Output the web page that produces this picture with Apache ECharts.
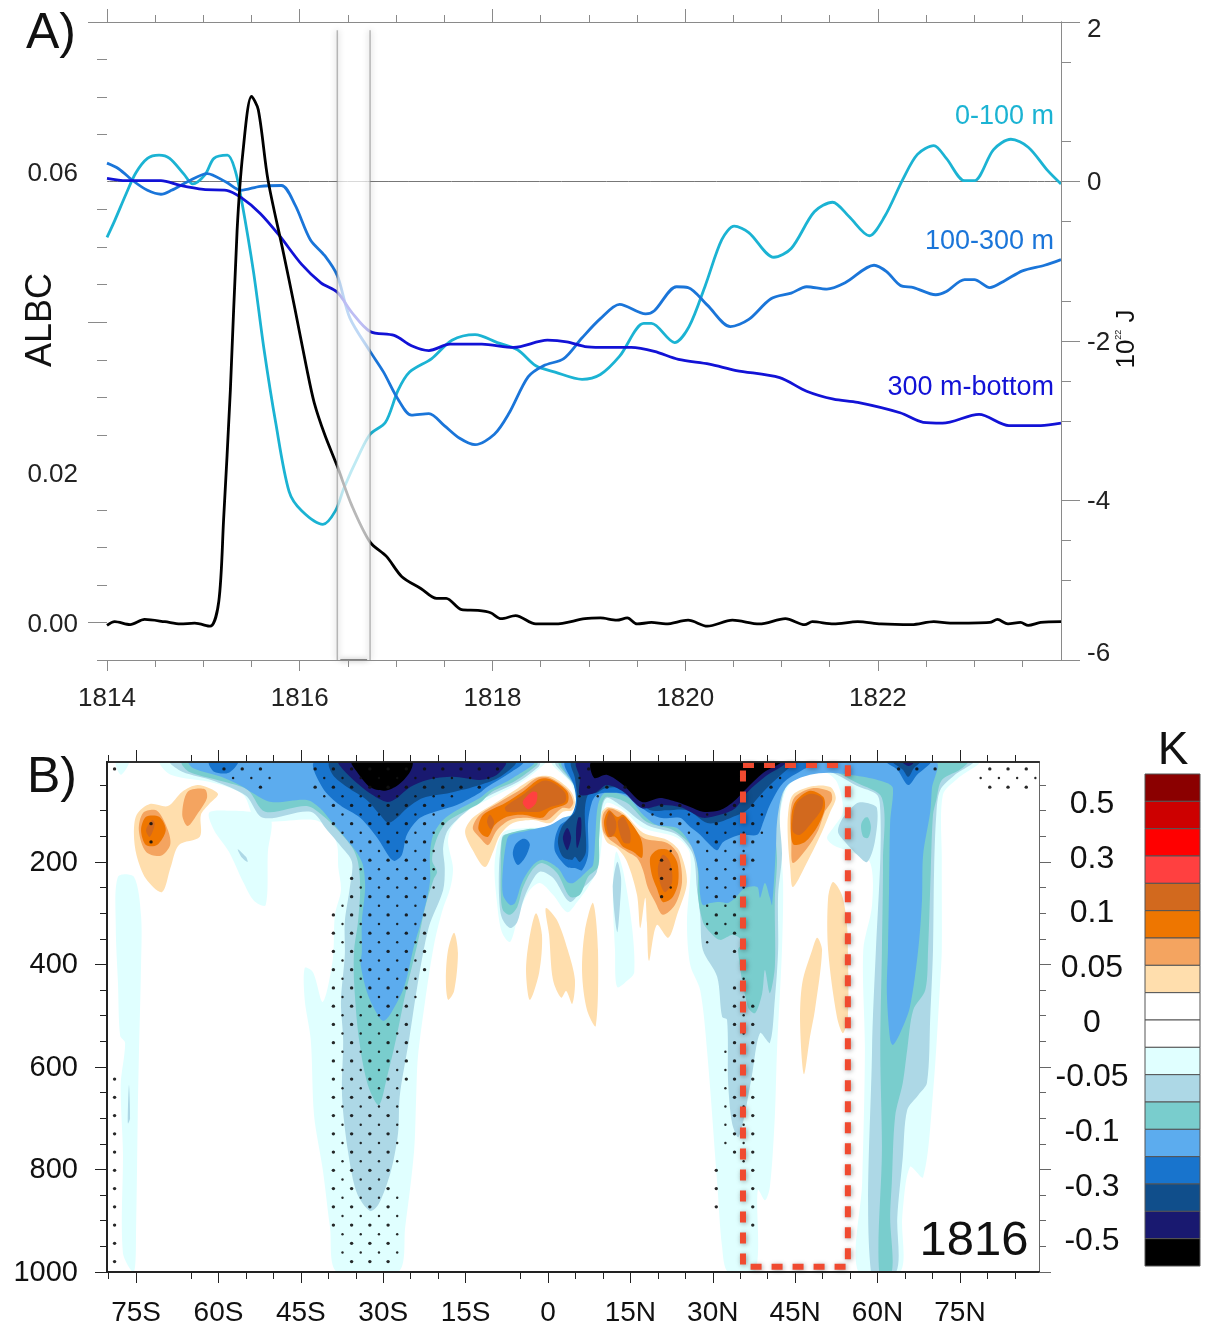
<!DOCTYPE html>
<html>
<head>
<meta charset="utf-8">
<title>ALBC and ocean heat content, 1816 anomaly section</title>
<script src="https://cdn.jsdelivr.net/npm/echarts@6/dist/echarts.min.js"></script>
<style>
  html, body { margin: 0; padding: 0; background: #fff; }
  #chart { width: 1210px; height: 1326px; }
</style>
</head>
<body>
<div id="chart"></div>
<script>
// ---------- panel A: time series ----------
const albcYears = [1814,1814.08,1814.24,1814.39,1814.6,1814.76,1814.91,1815.07,1815.16,1815.21,1815.28,1815.35,1815.41,1815.5,1815.57,1815.67,1815.83,1815.95,1816.07,1816.15,1816.26,1816.39,1816.54,1816.73,1816.9,1817.06,1817.26,1817.42,1817.52,1817.68,1817.85,1817.98,1818.09,1818.24,1818.45,1818.65,1818.96,1819.12,1819.29,1819.4,1819.5,1819.65,1819.8,1820.03,1820.23,1820.49,1820.77,1821.04,1821.24,1821.32,1821.54,1821.79,1822.03,1822.35,1822.58,1822.75,1823.16,1823.24,1823.35,1823.48,1823.56,1823.69,1823.9]
const albcValues = [-0.0004,0.0001,-0.0003,0.0004,0.0001,-0.0002,-0.0001,-0.0005,0.0028,0.0137,0.0309,0.0522,0.0626,0.0701,0.0683,0.059,0.0493,0.0418,0.034,0.0293,0.025,0.0208,0.0156,0.0107,0.0088,0.0061,0.0045,0.0032,0.0032,0.0017,0.0016,0.0013,0.0005,0.0009,-0.0002,-0.0002,0.0005,0.0006,0.0003,0.0006,-0.0002,0,-0.0002,0.0003,-0.0005,0.0003,-0.0002,0.0005,-0.0003,0.0001,-0.0002,0.0001,-0.0002,-0.0003,0.0001,-0.0001,0,0.0004,-0.0002,0,-0.0004,0,0.0001]

const upperYears = [1814,1814.08,1814.2,1814.3,1814.42,1814.54,1814.65,1814.8,1814.89,1815.02,1815.11,1815.25,1815.33,1815.4,1815.52,1815.63,1815.75,1815.89,1816.02,1816.24,1816.37,1816.46,1816.61,1816.73,1816.89,1817.02,1817.14,1817.37,1817.58,1817.82,1818.05,1818.26,1818.45,1818.65,1818.93,1819.12,1819.32,1819.57,1819.65,1819.89,1820.04,1820.21,1820.38,1820.51,1820.66,1820.92,1821.1,1821.34,1821.53,1821.7,1821.91,1822.07,1822.26,1822.41,1822.58,1822.71,1822.9,1823,1823.2,1823.38,1823.56,1823.76,1823.9]
const upperValues = [-0.7,-0.49,-0.15,0.11,0.29,0.33,0.29,0.09,-0.03,0.09,0.29,0.33,0.14,-0.26,-1.13,-2.11,-3.02,-3.89,-4.13,-4.3,-4.13,-3.84,-3.44,-3.17,-3.02,-2.62,-2.39,-2.22,-1.99,-1.92,-2.02,-2.11,-2.31,-2.39,-2.48,-2.42,-2.19,-1.78,-1.78,-2.02,-1.82,-1.3,-0.73,-0.56,-0.64,-0.95,-0.84,-0.38,-0.26,-0.44,-0.68,-0.44,0.03,0.34,0.45,0.29,0.01,0.01,0.4,0.53,0.43,0.14,-0.03]

const middleYears = [1814,1814.12,1814.28,1814.42,1814.56,1814.67,1814.84,1815.04,1815.24,1815.39,1815.59,1815.81,1815.95,1816.11,1816.26,1816.39,1816.52,1816.73,1816.87,1817.02,1817.16,1817.34,1817.5,1817.66,1817.82,1818.02,1818.17,1818.37,1818.53,1818.74,1818.93,1819.12,1819.32,1819.59,1819.68,1819.91,1820.03,1820.23,1820.47,1820.66,1820.89,1821.1,1821.26,1821.47,1821.66,1821.96,1822.09,1822.23,1822.37,1822.6,1822.71,1822.9,1823,1823.16,1823.32,1823.5,1823.73,1823.9]
const middleValues = [0.23,0.16,0,-0.11,-0.16,-0.11,0,0.1,-0.01,-0.11,-0.06,-0.05,-0.29,-0.73,-0.93,-1.18,-1.71,-2.13,-2.39,-2.73,-2.93,-2.91,-3.06,-3.22,-3.3,-3.17,-2.91,-2.45,-2.31,-2.22,-1.96,-1.72,-1.54,-1.66,-1.62,-1.32,-1.33,-1.55,-1.82,-1.73,-1.47,-1.4,-1.32,-1.35,-1.27,-1.05,-1.13,-1.3,-1.33,-1.42,-1.38,-1.23,-1.23,-1.33,-1.24,-1.12,-1.05,-0.98]

const deepYears = [1814,1814.2,1814.56,1814.76,1815,1815.24,1815.39,1815.59,1815.79,1816.02,1816.22,1816.39,1816.54,1816.73,1816.98,1817.16,1817.34,1817.56,1817.89,1818.22,1818.57,1818.77,1818.96,1819.12,1819.44,1819.68,1819.93,1820.25,1820.53,1820.98,1821.26,1821.54,1821.79,1822.23,1822.47,1822.67,1823.05,1823.36,1823.69,1823.9]
const deepValues = [0.04,0.01,0.01,-0.05,-0.1,-0.11,-0.2,-0.4,-0.68,-1.04,-1.27,-1.39,-1.64,-1.88,-1.93,-2.06,-2.12,-2.04,-2.04,-2.08,-1.99,-2.01,-2.07,-2.08,-2.08,-2.13,-2.23,-2.29,-2.37,-2.46,-2.63,-2.73,-2.77,-2.9,-3.02,-3.03,-2.92,-3.06,-3.06,-3.03]

const zeroLineYears = [1814, 1823.9]
const bandYears = [1816.39, 1816.73]
const bandAlbc = [-0.005, 0.0789]

const yearMajor = [1814,1816,1818,1820,1822]
const yearMinor = [1814.5,1815,1815.5,1816.5,1817,1817.5,1818.5,1819,1819.5,1820.5,1821,1821.5,1822.5,1823,1823.5]
const albcMajor = [0,0.04,0.08]
const albcMinor = [-0.005,0.005,0.01,0.015,0.025,0.03,0.035,0.045,0.05,0.055,0.065,0.07,0.075]
const albcLabels = [0,0.02,0.06]
const joulesMajor = [-6,-4,-2,0,2]
const joulesMinor = [-5,-4.5,-3,-2.5,-1.5,-0.5,0.5,1.5]

// ---------- panel B: filled contours as [latitude (-S/+N), depth] outlines ----------
const c1Plume = [[-70.5,5],[-68.7,30],[-60.8,46],[-55.5,69],[-53,118],[-42.6,118],[-39.9,134],[-38.4,167],[-38.2,210],[-37.7,255],[-38.8,303],[-39.2,391],[-41,473],[-42.8,415],[-44.3,407],[-44.3,469],[-43.2,547],[-42.6,694],[-41,801],[-39.7,912],[-38.4,1000],[-27.3,1000],[-26,912],[-24.4,766],[-24,657],[-23.7,582],[-22.4,473],[-20.8,364],[-19.3,297],[-17.8,251],[-17.3,212],[-18.2,161],[-17.5,132],[-14.8,102],[-10,73],[-5.1,46],[-1.5,17],[-0.5,5]]
const c1Centre = [[0.9,5],[4,44],[4.9,69],[4.6,102],[2.2,118],[-0.5,132],[-3.8,134],[-8.2,143],[-9.7,200],[-9.3,278],[-8.4,337],[-6.9,356],[-5.5,309],[-3.6,259],[-1.5,241],[0.9,264],[3.5,298],[5.3,278],[7.3,249],[9.1,212],[9.8,161],[10,114],[10.7,85],[13.7,99],[17.3,134],[23.5,153],[25.9,186],[25.3,319],[25.9,401],[27.7,450],[29,573],[30.8,826],[31.7,951],[32.8,1000],[37.7,1000],[38.2,840],[39.5,860],[40.4,834],[41.3,697],[41.7,567],[42.6,372],[42.8,239],[42.2,122],[43.2,63],[45.3,36],[50.1,24],[52.6,44],[53.7,102],[51.9,134],[50.8,153],[51.9,167],[55,180],[58.6,200],[59,284],[57.4,372],[57.7,567],[57.2,826],[56.5,1000],[64.1,1000],[64.5,893],[65.9,795],[68.3,815],[70.1,651],[71.4,436],[71.7,372],[71.7,196],[71.9,69],[74.7,36],[78.3,5]]
const c1LobeSouth = [[-61.7,104],[-60.8,138],[-58.1,180],[-55.5,239],[-53.5,276],[-51.4,284],[-51,180],[-50.4,118],[-53,104],[-58.1,100]]
const c1StripSouth = [[-78.3,229],[-78.7,327],[-78.3,436],[-77.9,539],[-77,553],[-77.8,635],[-77.4,766],[-77.4,963],[-75.4,1000],[-75,912],[-74.7,694],[-74.5,582],[-74.1,401],[-74.1,305],[-75.4,229]]
const c1Corner = [[-78.7,5],[-77.8,30],[-76.3,5]]
const c1Sliver12N = [[12.4,180],[11.8,255],[12.2,372],[12.6,444],[14.6,430],[15.7,415],[15.3,327],[13.7,218]]

const c2Plume = [[-68.7,5],[-66.6,24],[-60.8,42],[-55,71],[-51.9,114],[-43.2,102],[-40.2,138],[-37.9,167],[-35.7,200],[-36.1,251],[-37,317],[-37,381],[-37.7,473],[-37.3,547],[-37.5,657],[-36.4,766],[-34.8,846],[-32.4,881],[-30.8,867],[-28.6,803],[-27.3,729],[-27,657],[-25.3,547],[-23.7,436],[-21.7,327],[-19.1,255],[-18.8,212],[-19.1,173],[-18.4,141],[-16.6,118],[-12.9,85],[-10,67],[-5.5,44],[-1.8,15],[-1.5,7]]
const c2Centre = [[1.6,5],[4.4,46],[5.3,69],[5,102],[2.2,120],[-0.5,136],[-3.8,137],[-8,147],[-8.4,153],[-8.9,206],[-8.9,270],[-8.4,309],[-6.9,329],[-5.6,317],[-4.6,278],[-3.3,245],[-1.5,219],[0.9,231],[4,278],[6.4,251],[8.9,219],[9.3,153],[9.8,95],[10.7,75],[13.1,89],[18,128],[23.5,147],[26.4,186],[27.1,251],[27.7,303],[28.2,372],[30.8,424],[31.7,502],[32.6,508],[32.8,631],[33.5,709],[34.6,737],[35.5,709],[37.1,619],[38.6,534],[40.4,553],[41.3,469],[41.9,372],[41.9,264],[42.6,186],[42.2,108],[43.2,56],[45.3,30],[50.1,20],[52.6,30],[56.3,52],[59.9,69],[60.5,99],[60.5,196],[59.7,372],[59,567],[58.8,1000],[63.4,1000],[63.6,893],[64.6,776],[65.4,684],[67.4,655],[69,631],[69.6,502],[70.1,372],[70.3,216],[70.7,108],[71.4,60],[74.1,30],[77.2,5]]
const c2Lobe50N = [[56.3,85],[53.7,114],[52.8,141],[54.1,161],[56.3,186],[58.1,200],[59.5,161],[59.9,95],[58.1,85]]
const c2SpotSouth = [[-56.5,175],[-55,190],[-54.7,200],[-55.7,192]]
const c2SpotStrip = [[-76.3,635],[-76.5,710],[-76.1,700]]
const c2Sliver12N = [[12.6,200],[11.8,251],[12.6,337],[13.1,284],[13.3,231]]

const c3Plume = [[-66.6,5],[-65.4,24],[-58.1,46],[-54.6,60],[-51.5,102],[-43.9,91],[-41,110],[-38.4,136],[-35.7,171],[-34.6,200],[-34.2,251],[-34.6,317],[-35.3,372],[-35.3,436],[-34.4,547],[-32.8,635],[-30.8,674],[-29.3,619],[-27.7,547],[-26,459],[-23.7,356],[-22.4,290],[-20.8,233],[-20.2,219],[-21.1,196],[-20.2,153],[-18.4,122],[-14.8,99],[-12.4,85],[-10.2,63],[-6,42],[-2,11],[-2,5]]
const c3Centre = [[2.2,5],[4.7,50],[5.3,104],[2.7,118],[-0.5,134],[-3.8,136],[-7.8,147],[-8.4,157],[-8.6,212],[-8.6,264],[-8.2,294],[-6.9,303],[-5.6,288],[-4.6,251],[-2.9,216],[-1.1,202],[1.6,221],[4,268],[5.8,264],[7.3,229],[9.1,210],[9.3,153],[9.8,89],[10.7,73],[14.4,85],[18,122],[22.8,138],[26.4,173],[27.3,219],[27.3,264],[28.2,317],[29.5,337],[31.3,352],[33.7,342],[35.5,356],[34.6,372],[36.4,483],[37.7,495],[39,456],[39.5,411],[40.4,456],[41.3,405],[41.3,274],[41.7,196],[41.3,118],[42.2,69],[45.3,24],[50.1,15],[56.3,46],[60.8,75],[61,196],[60.8,372],[60.5,567],[60.8,762],[60.3,1000],[62.6,1000],[62.3,893],[62.6,826],[63.2,697],[64.6,631],[65.4,567],[66.5,489],[68.7,450],[69.2,372],[69.7,216],[70.1,108],[70.7,79],[71.7,40],[75,20],[76.3,5]]
const c3Lobe50N = [[57.7,114],[57,128],[57.4,151],[58.3,153],[58.8,132],[58.3,114]]

const c4Plume = [[-65.4,5],[-64.6,17],[-59.5,34],[-55.5,54],[-54.2,63],[-50.4,83],[-43.9,79],[-41.5,95],[-39.2,124],[-36.6,157],[-34.8,182],[-33.7,206],[-33.3,251],[-33.9,317],[-33.9,376],[-34.1,401],[-32.8,459],[-30.8,502],[-29.9,510],[-28.6,495],[-26.2,444],[-24.4,364],[-22.8,305],[-21.5,239],[-21.5,186],[-20.9,147],[-19.1,118],[-16.6,99],[-12.4,75],[-10.6,60],[-6.4,36],[-2.7,5]]
const c4Centre = [[2.7,5],[4.4,44],[5.5,60],[5.3,104],[2.7,114],[0.4,128],[-3.8,139],[-6.9,147],[-7.5,157],[-8.2,212],[-8.2,264],[-6.9,284],[-6,280],[-4.7,239],[-2.7,206],[-0.9,196],[1.8,212],[3.5,239],[4.6,241],[7.3,216],[8.2,206],[8.6,153],[9.1,89],[10.4,65],[14.4,73],[17.3,108],[19.8,128],[23.5,134],[26,167],[27.3,212],[27.7,264],[28.2,284],[29.5,280],[31.3,278],[32.8,280],[34.1,270],[35.9,251],[38.1,249],[38.6,270],[39.5,241],[40.4,270],[40.8,284],[41.5,173],[41.7,122],[42.6,69],[44.1,46],[47.7,30],[51.4,26],[57.4,34],[61.7,46],[62.8,56],[62.3,122],[62.1,251],[61.9,372],[61.7,456],[62.3,547],[62.8,557],[64.1,534],[65.9,483],[67.4,372],[68.1,274],[68.3,186],[69.6,102],[69.9,56],[70.5,5]]

const c5Patch60S = [[-61.7,5],[-56.5,5],[-58.1,26],[-60.8,24]]
const c5Plume = [[-42.4,5],[-41,56],[-37.9,89],[-34.2,114],[-31.1,153],[-28.8,192],[-27.9,198],[-26.6,186],[-25.7,147],[-23.3,114],[-19.7,99],[-16.6,89],[-12.4,65],[-11.1,54],[-6.9,26],[-4.6,5]]
const c5Centre = [[3.3,5],[4.7,50],[5.1,79],[4.6,102],[3.5,118],[2.2,128],[1.3,153],[1.3,180],[3.5,210],[4.9,212],[6.2,216],[7.3,186],[7.3,122],[8,83],[8.9,69],[10.7,65],[14.4,69],[16.8,93],[20.4,114],[24,114],[25.9,132],[27.7,147],[29.5,167],[30.8,177],[31.9,161],[35,147],[38.1,147],[39.2,122],[40.4,89],[42.8,46],[46.4,20],[49.2,5]]
const c5Blob = [[-4.7,155],[-6,167],[-6.4,186],[-5.5,206],[-4.2,192],[-3.3,167],[-3.8,157]]
const c5Top65N = [[61.7,5],[63.6,20],[65.6,50],[67.2,30],[69.6,5]]

const c6Plume = [[-39.7,5],[-39.2,30],[-36.6,54],[-33,79],[-30.6,108],[-29.1,124],[-27.5,114],[-25.7,95],[-22.8,75],[-17.8,65],[-12.4,50],[-8.7,34],[-6,5]]
const c6Centre = [[4.4,5],[4.9,36],[5.3,75],[4.9,102],[3.5,118],[2.5,132],[1.8,161],[2.7,190],[4.4,196],[4.9,190],[5.8,200],[6.9,180],[6.7,102],[7.3,69],[8.9,65],[10.4,56],[13.7,56],[16.2,75],[18.6,99],[21.7,99],[25.3,99],[29,124],[31.3,122],[33.7,112],[36.2,99],[38.2,75],[40.4,50],[43.5,20],[45.3,5]]
const c6Top65N = [[62.8,5],[64.6,20],[65.6,34],[66.6,17],[67.7,5]]

const c7Plume = [[-38.1,5],[-37.3,20],[-34.8,46],[-32,69],[-29.3,83],[-27.5,75],[-25.1,54],[-22,40],[-17.3,34],[-12.4,40],[-9.3,30],[-7.8,5]]
const c7Centre = [[5.3,5],[5.8,36],[5.8,69],[8.6,65],[10.7,50],[13.7,63],[17.1,95],[20.9,89],[24,93],[25.9,102],[28.2,114],[31.3,108],[34.1,95],[36.4,63],[39.5,34],[43.2,5]]
const c7BlobA = [[3.5,134],[2.7,153],[3.5,177],[4.2,153]]
const c7BlobB = [[5.5,114],[5.1,141],[5.3,173],[6,147],[6,114]]
const c7Top65N = [[64.5,5],[65.6,13],[66.5,7]]

const blackPlume = [[-35.7,5],[-34.8,24],[-32.4,54],[-29.7,61],[-27.3,50],[-25.1,24],[-24.8,5]]
const blackCentre = [[8,5],[8.4,36],[10.7,30],[13.7,50],[17.1,83],[20.4,75],[23.5,83],[25.9,93],[28.2,102],[31.3,99],[33.7,83],[36.2,56],[39.2,26],[42.2,5]]

const w1South = [[-75.4,145],[-74.9,108],[-72.5,87],[-69.2,91],[-66.6,63],[-63.7,50],[-60.1,67],[-61.7,87],[-63.2,108],[-63.4,151],[-67.2,167],[-68.7,210],[-70.3,259],[-73.2,233],[-74.9,188]]
const w1Equator = [[-15.1,141],[-13.7,114],[-9.3,83],[-5.5,56],[-2,34],[0.7,34],[4,60],[4.9,83],[4.4,99],[2.7,102],[0.4,124],[-2.7,118],[-6.4,124],[-8.7,147],[-10,180],[-11.5,210],[-13.7,177]]
const w1North15 = [[9.8,104],[10.9,93],[13.7,104],[17.3,143],[21.7,157],[24,180],[25.3,239],[23.5,303],[21.9,348],[19.8,323],[18.4,393],[18,317],[17.7,270],[16.8,329],[16.2,264],[14.4,200],[12.6,173],[10.7,161],[9.8,134]]
const w1North45 = [[43.7,108],[44.6,69],[48.3,52],[51.4,54],[52.4,75],[51.4,102],[49.9,141],[47.2,200],[44.6,249],[44.1,212],[43.7,161]]
const w1SliverA = [[-17.1,338],[-18.2,372],[-18.6,430],[-18.2,469],[-17.1,452],[-16.4,377]]
const w1SliverB = [[-2.2,300],[-3.5,356],[-4,415],[-3.3,469],[-1.6,415],[-1.1,342]]
const w1SliverC = [[-0.4,290],[0.2,342],[0.9,430],[2.4,465],[3.3,452],[4.4,477],[4.9,430],[3.6,372],[1.6,313]]
const w1SliverD = [[8.2,280],[6.7,335],[6.2,415],[7.1,489],[8.7,520],[9.1,372]]
const w1SliverE = [[49,348],[48.1,372],[46.3,436],[45.9,514],[46.6,614],[47.7,541],[48.6,489],[49.9,372]]
const w1SliverF = [[51.9,239],[51,270],[51,372],[52.6,502],[53.7,534],[54.6,502],[54.6,372],[54.4,317],[53.5,264]]

const w2SouthA = [[-74.5,138],[-73.7,104],[-71.2,100],[-69.2,138],[-68.8,167],[-70.5,188],[-73.2,180]]
const w2SouthB = [[-66.6,108],[-65.6,63],[-62.5,58],[-62.1,75],[-63.7,104],[-65.6,130]]
const w2Equator = [[-13.7,134],[-12.4,108],[-8.2,79],[-4.6,56],[-2,36],[0.4,36],[3.6,60],[4.6,83],[4,95],[2.5,95],[-0.2,118],[-3.8,114],[-6.9,118],[-9.3,138],[-10.9,167],[-12.4,153]]
const w2North15 = [[10,108],[11.1,95],[13.7,108],[17.3,153],[21.7,163],[23.7,186],[24.4,239],[23.1,284],[20.9,303],[19.5,278],[18.2,251],[17.3,216],[16.2,192],[14.4,180],[12.6,167],[10.9,153],[10,138]]
const w2North45 = [[44.1,114],[44.8,75],[48.1,56],[51.4,63],[51.7,79],[50.4,102],[49.2,138],[47.2,173],[44.6,202],[44.3,161]]

const w3South = [[-74.1,138],[-73.2,112],[-70.8,112],[-69.6,138],[-71.2,167],[-73.2,167]]
const w3Equator = [[-12.7,134],[-11.8,108],[-7.8,85],[-4.6,63],[-1.5,38],[0.7,40],[3.5,63],[3.5,85],[0.4,99],[-1.1,114],[-4.6,108],[-7.5,112],[-9.7,128],[-10.9,151],[-12,147]]
const w3North15A = [[10.2,122],[11.1,99],[12.6,112],[13.7,108],[15.8,134],[17.1,161],[17.1,192],[15.5,180],[13.7,171],[12.2,151],[10.9,151]]
const w3North15B = [[18.6,192],[19.8,177],[21.9,177],[23.5,200],[23.7,241],[22.6,270],[20.9,278],[19.8,251],[18.9,225]]
const w3North45 = [[44.3,114],[45,83],[47.7,61],[50.1,73],[50.4,95],[49,132],[46.8,161],[44.6,165]]

const w4South = [[-73.2,138],[-72.1,118],[-71.6,126],[-72.5,151]]
const w4EquatorA = [[-11.1,122],[-10.6,108],[-9.8,122],[-10.4,136]]
const w4EquatorB = [[-7.8,93],[-4.6,69],[-1.1,42],[0.7,44],[3.1,65],[3.1,83],[0.4,93],[-1.5,102],[-4.6,102],[-7.5,102]]
const w4North15A = [[10.6,124],[11.3,102],[12.4,122],[12.2,143],[11.3,151]]
const w4North15B = [[12.7,122],[13.7,112],[14.9,138],[14.9,163],[13.7,161]]
const w4North15C = [[20,212],[20.9,186],[22.2,200],[22.6,239],[21.3,259],[20.4,241]]
const w4North45 = [[44.6,114],[45.3,85],[47.7,67],[49.9,75],[49.9,95],[48.1,122],[45.9,147],[44.6,141]]

const w5Equator = [[-4.6,83],[-2.9,63],[-2,65],[-2.2,85],[-3.6,97]]

// colour bar, top to bottom
const barColors = ['#8B0000','#CD0000','#FF0000','#FF4040','#D2691E','#EE7600','#F4A460','#FFDEAD','#FFFFFF','#FFFFFF','#E0FFFF','#ADD8E6','#79CDCD','#5CACEE','#1874CD','#104E8B','#191970','#000000']
const barLabels = ['0.5','0.3','0.1','0.05','0','-0.05','-0.1','-0.3','-0.5']
const barLabelSlots = [1,3,5,7,9,11,13,15,17]

// painted in this order, colours as in barColors
const contourLayers = [
  ['#E0FFFF', [c1Plume, c1Centre, c1LobeSouth, c1StripSouth, c1Corner, c1Sliver12N]],
  ['#ADD8E6', [c2Plume, c2Centre, c2Lobe50N, c2SpotSouth, c2SpotStrip, c2Sliver12N]],
  ['#79CDCD', [c3Plume, c3Centre, c3Lobe50N]],
  ['#5CACEE', [c4Plume, c4Centre]],
  ['#1874CD', [c5Patch60S, c5Plume, c5Centre, c5Blob, c5Top65N]],
  ['#104E8B', [c6Plume, c6Centre, c6Top65N]],
  ['#191970', [c7Plume, c7Centre, c7BlobA, c7BlobB, c7Top65N]],
  ['#000000', [blackPlume, blackCentre]],
  ['#FFDEAD', [w1South, w1Equator, w1North15, w1North45, w1SliverA, w1SliverB, w1SliverC, w1SliverD, w1SliverE, w1SliverF]],
  ['#F4A460', [w2SouthA, w2SouthB, w2Equator, w2North15, w2North45]],
  ['#EE7600', [w3South, w3Equator, w3North15A, w3North15B, w3North45]],
  ['#D2691E', [w4South, w4EquatorA, w4EquatorB, w4North15A, w4North15B, w4North15C, w4North45]],
  ['#FF4040', [w5Equator]]
]

// significance dots sit on a staggered grid, runs are [row, first column, last column], every 2nd column
const stippleRuns = [[0,-22,-22],[0,-10,-6],[0,0,20],[0,30,30],[0,64,68],[0,74,78],[1,-9,-5],[1,1,19],[1,29,29],[1,51,51],[1,73,79],[2,-6,-6],[2,0,18],[2,30,34],[2,50,50],[2,74,78],[3,1,15],[3,29,31],[3,49,49],[4,2,14],[4,36,40],[4,46,48],[5,3,13],[5,37,49],[6,-18,-18],[6,2,14],[6,38,48],[7,3,13],[7,41,49],[8,-18,-18],[8,4,12],[8,42,48],[9,5,13],[9,39,39],[9,43,47],[10,6,12],[10,38,38],[10,44,48],[11,5,13],[11,39,39],[11,43,47],[12,4,12],[12,38,38],[12,44,46],[13,5,13],[13,39,39],[13,43,47],[14,4,12],[14,38,38],[14,44,46],[15,3,11],[15,43,45],[16,2,12],[16,44,46],[17,3,11],[17,43,45],[18,2,12],[18,44,46],[19,3,11],[19,43,43],[20,2,12],[20,46,46],[21,3,11],[22,2,12],[23,3,11],[23,47,47],[24,2,10],[24,46,46],[25,3,11],[25,47,47],[26,2,10],[26,46,48],[27,3,9],[27,47,47],[28,2,10],[28,46,48],[29,3,9],[29,47,47],[30,2,10],[30,46,48],[31,3,9],[31,45,47],[32,2,10],[32,46,48],[33,3,9],[33,45,47],[34,-22,-22],[34,2,10],[34,46,48],[35,3,9],[35,45,47],[36,-22,-22],[36,2,8],[36,46,48],[37,3,9],[37,45,47],[38,-22,-22],[38,2,8],[38,46,48],[39,3,9],[39,45,47],[40,-22,-22],[40,2,8],[40,46,48],[41,3,9],[41,45,47],[42,-22,-22],[42,2,8],[42,46,48],[43,3,9],[43,47,47],[44,-22,-22],[44,2,8],[44,44,44],[44,48,48],[45,3,7],[46,-22,-22],[46,2,8],[46,44,44],[46,48,48],[47,3,9],[48,-22,-22],[48,2,8],[48,44,44],[48,48,48],[49,3,9],[50,-22,-22],[50,2,8],[50,48,48],[51,3,9],[52,-22,-22],[52,4,8],[53,3,9],[54,-22,-22],[54,4,8]]
const stippleLon0 = -42.4
const stippleLonStep = 1.66
const stippleDepth0 = 18.5
const stippleDepthStep = 17.8

const boxLons = [35.5, 54.6, 54.6, 35.5, 35.5]
const boxDepths = [11, 11, 990, 990, 11]

const latMajor = [-75,-60,-45,-30,-15,0,15,30,45,60,75]
const latMinor = [-80,-65,-55,-50,-40,-35,-25,-20,-5,5,10,20,25,35,40,50,55,65,70,80,85]
const latLabels = ['75S','60S','45S','30S','15S','0','15N','30N','45N','60N','75N']
const depthMajor = [200,400,600,800,1000]
const depthMinor = [50,100,150,250,300,350,450,500,550,650,700,750,850,900,950]

// ---------- helpers ----------
const font = '"Liberation Sans", Arial, sans-serif'
const grayAxis = '#8a8a8a'

function zipXY(xs, ys) {
  return xs.map((x, i) => [x, ys[i]])
}

function tickAxis(base, ticks, length, color, lineWidth, label) {
  return Object.assign({
    type: 'value',
    z: 10,
    splitLine: { show: false },
    axisLine: { show: true, onZero: false, lineStyle: { color: color, width: lineWidth } },
    axisTick: { show: true, customValues: ticks, length: length, lineStyle: { color: color, width: 1 } },
    axisLabel: label || { show: false }
  }, base)
}

function lineSeries(name, xs, ys, color, yAxisIndex, z, width) {
  return {
    name: name,
    type: 'line',
    xAxisIndex: 0,
    yAxisIndex: yAxisIndex,
    data: zipXY(xs, ys),
    smooth: 0.3,
    showSymbol: false,
    z: z,
    lineStyle: { color: color, width: width || 2.8 }
  }
}

function renderContour(params, api) {
  const cell = contourCells[params.dataIndex]
  return {
    type: 'polygon',
    shape: { points: cell.outline.map(p => api.coord(p)), smooth: 0.3 },
    style: { fill: cell.color }
  }
}

const contourCells = []
contourLayers.forEach(layer => {
  layer[1].forEach(outline => contourCells.push({ color: layer[0], outline: outline }))
})

function renderBand(params, api) {
  const a = api.coord([bandYears[0], bandAlbc[1]])
  const b = api.coord([bandYears[1], bandAlbc[0]])
  const edge = { stroke: 'rgba(140,140,140,0.6)', lineWidth: 1.5, shadowBlur: 6, shadowColor: 'rgba(0,0,0,0.5)' }
  const foot = { stroke: 'rgba(90,90,90,0.7)', lineWidth: 2, shadowBlur: 5, shadowColor: 'rgba(0,0,0,0.5)' }
  return {
    type: 'group',
    children: [
      { type: 'rect', shape: { x: a[0], y: a[1], width: b[0] - a[0], height: b[1] - a[1] }, style: { fill: 'rgba(255,255,255,0.72)' } },
      { type: 'line', shape: { x1: a[0], y1: a[1], x2: a[0], y2: b[1] }, style: edge },
      { type: 'line', shape: { x1: b[0], y1: a[1], x2: b[0], y2: b[1] }, style: edge },
      { type: 'line', shape: { x1: a[0] + 3, y1: b[1], x2: b[0] - 3, y2: b[1] }, style: foot }
    ]
  }
}

function renderBarCell(params, api) {
  const i = params.dataIndex
  const a = api.coord([0, i])
  const b = api.coord([1, i + 1])
  return {
    type: 'rect',
    shape: { x: a[0], y: a[1], width: b[0] - a[0], height: b[1] - a[1] },
    style: { fill: barColors[i], stroke: '#555', lineWidth: 1 }
  }
}

const stippleData = []
stippleRuns.forEach(run => {
  for (let k = run[1]; k <= run[2]; k += 2) {
    stippleData.push([stippleLon0 + k * stippleLonStep, stippleDepth0 + run[0] * stippleDepthStep, run[0] % 2 === 0 ? 3.4 : 2.4])
  }
})

function pageText(text, x, y, size, color, extra) {
  return {
    type: 'text',
    x: x,
    y: y,
    z: 50,
    style: Object.assign({ text: text, fontFamily: font, fontSize: size, fill: color, align: 'center', verticalAlign: 'middle' }, extra || {})
  }
}

// rich tokens: padding nudges a tick label off its tick
function nudged(size, color, top, bottom) {
  return { fontFamily: font, fontSize: size, color: color, padding: [top, 0, bottom, 0] }
}

const yearLabel = { show: true, customValues: yearMajor, fontFamily: font, fontSize: 26, color: '#222', margin: 26, formatter: v => String(v) }
const albcLabel = {
  show: true, customValues: albcLabels, margin: 29, formatter: v => '{n|' + v.toFixed(2) + '}',
  rich: { n: nudged(26, '#222', 4, 0) }
}
const joulesLabel = {
  show: true, customValues: joulesMajor, margin: 26,
  formatter: v => (v === 2 ? '{t|2}' : v === -6 ? '{b|-6}' : '{n|' + v + '}'),
  rich: { n: nudged(26, '#222', 3, 0), t: nudged(26, '#222', 16, 0), b: nudged(26, '#222', 0, 12) }
}
const latLabel = {
  show: true, customValues: latMajor, fontFamily: font, fontSize: 28, color: '#111', margin: 27,
  formatter: v => latLabels[latMajor.indexOf(v)]
}
const depthLabel = {
  show: true, customValues: depthMajor, margin: 29, formatter: v => '{n|' + v + '}',
  rich: { n: nudged(29, '#111', 2, 0) }
}
const barLabel = {
  show: true, customValues: barLabelSlots, margin: 53, align: 'center',
  formatter: v => '{n|' + barLabels[barLabelSlots.indexOf(v)] + '}',
  rich: { n: nudged(32, '#111', 6, 0) }
}

const yearRange = { gridIndex: 0, min: 1814, max: 1823.9 }
const albcRange = { gridIndex: 0, min: -0.005, max: 0.08 }
const joulesRange = { gridIndex: 0, min: -6, max: 2 }
const latRange = { gridIndex: 1, min: -80.3, max: 89.4 }
const depthRange = { gridIndex: 1, min: 5, max: 1000, inverse: true }

const option = {
  animation: false,
  backgroundColor: '#fff',
  textStyle: { fontFamily: font },
  grid: [
    { left: 107, top: 22, width: 954, height: 638, outerBoundsMode: 'none' },
    { left: 107, top: 762, width: 932, height: 510, outerBoundsMode: 'none' },
    { left: 1145, top: 774, width: 55, height: 492, outerBoundsMode: 'none' }
  ],
  xAxis: [
    tickAxis(Object.assign({ position: 'bottom' }, yearRange), yearMajor, 11, grayAxis, 1, yearLabel),
    tickAxis(Object.assign({ position: 'bottom' }, yearRange), yearMinor, 7, grayAxis, 1),
    tickAxis(Object.assign({ position: 'top' }, yearRange), yearMajor, 13, grayAxis, 1),
    tickAxis(Object.assign({ position: 'top' }, yearRange), yearMinor, 7, grayAxis, 1),
    tickAxis(Object.assign({ position: 'bottom' }, latRange), latMajor, 11, '#222', 2, latLabel),
    tickAxis(Object.assign({ position: 'bottom' }, latRange), latMinor, 7, '#222', 2),
    tickAxis(Object.assign({ position: 'top' }, latRange), latMajor, 12, '#222', 1.5),
    tickAxis(Object.assign({ position: 'top' }, latRange), latMinor, 7, '#222', 1.5),
    { type: 'value', gridIndex: 2, min: 0, max: 1, show: false }
  ],
  yAxis: [
    // panel A, ALBC: ticks only, no spine
    tickAxis(Object.assign({ position: 'left' }, albcRange), albcMajor, 19, grayAxis, 1, albcLabel),
    tickAxis(Object.assign({ position: 'left' }, albcRange), albcMinor, 10, grayAxis, 1),
    // panel A, heat content
    tickAxis(Object.assign({ position: 'right' }, joulesRange), joulesMajor, 19, grayAxis, 1, joulesLabel),
    tickAxis(Object.assign({ position: 'right' }, joulesRange), joulesMinor, 10, grayAxis, 1),
    // panel B
    tickAxis(Object.assign({ position: 'left' }, depthRange), depthMajor, 12, '#222', 2, depthLabel),
    tickAxis(Object.assign({ position: 'left' }, depthRange), depthMinor, 7, '#222', 2),
    tickAxis(Object.assign({ position: 'right' }, depthRange), depthMajor, 12, '#666', 1),
    tickAxis(Object.assign({ position: 'right' }, depthRange), depthMinor, 7, '#666', 1),
    // colour bar labels
    {
      type: 'value', gridIndex: 2, min: 0, max: 18, inverse: true, position: 'left',
      splitLine: { show: false }, axisLine: { show: false }, axisTick: { show: false }, axisLabel: barLabel
    }
  ],
  series: [
    lineSeries('zero', zeroLineYears, [0, 0], '#777', 2, 1, 1),
    lineSeries('0-100 m', upperYears, upperValues, '#1BB3D3', 2, 2),
    lineSeries('100-300 m', middleYears, middleValues, '#1A75D9', 2, 3),
    lineSeries('300 m-bottom', deepYears, deepValues, '#1212D6', 2, 4),
    lineSeries('ALBC', albcYears, albcValues, '#000', 0, 5),
    {
      name: 'band', type: 'custom', xAxisIndex: 0, yAxisIndex: 0, z: 6, clip: false,
      data: [[bandYears[0], bandAlbc[0]]], renderItem: renderBand
    },
    {
      name: 'contours', type: 'custom', xAxisIndex: 4, yAxisIndex: 4, z: 2, clip: true,
      data: contourCells.map((c, i) => [c.outline[0][0], c.outline[0][1], i]), renderItem: renderContour
    },
    {
      name: 'significance', type: 'scatter', xAxisIndex: 4, yAxisIndex: 4, z: 3,
      data: stippleData, symbol: 'circle', symbolSize: v => v[2], itemStyle: { color: '#111', opacity: 0.9 }
    },
    {
      name: 'box', type: 'line', xAxisIndex: 4, yAxisIndex: 4, z: 4, showSymbol: false,
      data: zipXY(boxLons, boxDepths),
      lineStyle: { color: '#F04A30', width: 6, type: [11, 10], shadowBlur: 5, shadowColor: 'rgba(0,0,0,0.35)', shadowOffsetX: 1, shadowOffsetY: 1 }
    },
    {
      name: 'colour bar', type: 'custom', xAxisIndex: 8, yAxisIndex: 8, z: 2,
      data: barColors.map((c, i) => [0, i]), renderItem: renderBarCell
    }
  ],
  graphic: [
    pageText('A)', 51, 34, 50, '#111'),
    pageText('B)', 52, 778, 50, '#111'),
    pageText('K', 1173, 751, 46, '#111'),
    pageText('1816', 974, 1241, 49, '#111'),
    Object.assign(pageText('ALBC', 41, 320, 36, '#111'), { rotation: Math.PI / 2 }),
    pageText('0-100 m', 1054, 117, 27, '#1BB3D3', { align: 'right' }),
    pageText('100-300 m', 1054, 242, 27, '#1A75D9', { align: 'right' }),
    pageText('300 m-bottom', 1054, 388, 27, '#1212D6', { align: 'right' }),
    Object.assign(pageText('{a|10}{b|22}{a| J}', 1127, 339, 26, '#111', {
      rich: { a: { fontSize: 26, fontFamily: font, fill: '#111' }, b: { fontSize: 9, fontFamily: font, fill: '#111', verticalAlign: 'top' } }
    }), { rotation: Math.PI / 2 })
  ]
}

// ALBC axis has ticks but no spine
option.yAxis[0].axisLine.show = false
option.yAxis[1].axisLine.show = false

const chart = echarts.init(document.getElementById('chart'), null, { renderer: 'canvas' })
chart.setOption(option)
</script>
</body>
</html>
